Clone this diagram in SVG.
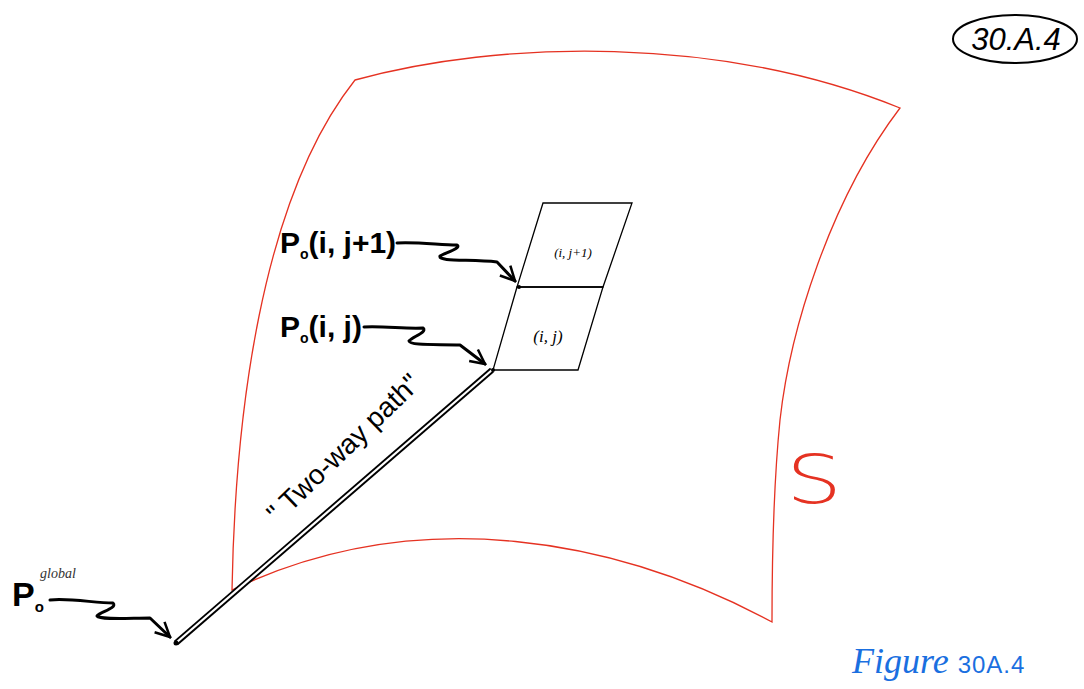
<svg xmlns="http://www.w3.org/2000/svg" width="1084" height="689" viewBox="0 0 1084 689">
<style>
.lbl{font-family:"Liberation Sans",Arial,sans-serif;font-weight:bold;fill:#000}
.cell{fill:none;stroke:#000;stroke-width:1.3}
.sq{fill:none;stroke:#000;stroke-width:3;stroke-linecap:round;stroke-linejoin:round}
.small{font-family:"Liberation Serif",serif;font-style:italic;fill:#000}
</style>
<defs>
<marker id="ah" viewBox="0 0 10 10" refX="9" refY="5" markerWidth="6" markerHeight="6" orient="auto" markerUnits="strokeWidth">
<path d="M1,1 L9,5 L1,9" fill="none" stroke="#000" stroke-width="1.4"/>
</marker>
</defs>
<rect width="1084" height="689" fill="#fff"/>
<g id="surface">
<path d="M355,80 C500,40 720,35 900,108 C830,200 790,330 780,420 C774,480 772,560 772,622 C620,540 420,500 232,590 C235,420 260,200 355,80 Z" fill="none" stroke="#e53222" stroke-width="1.3"/>
<text x="786" y="503" font-family="DejaVu Sans,sans-serif" font-weight="200" font-size="68" fill="#e53222" transform="translate(786,503) scale(1.3,1) translate(-786,-503)">S</text>
</g>
<g id="cell-ij1">
<path class="cell" d="M543,203 L632,203 L603,287 L517,287 Z"/>
<text class="small" x="573" y="257" font-size="13" text-anchor="middle">(i, j+1)</text>
</g>
<g id="cell-ij">
<path class="cell" d="M517,287 L603,287 L578,370 L493,370 Z"/>
<text class="small" x="548" y="342" font-size="17" text-anchor="middle">(i, j)</text>
</g>
<g id="path-two-way">
<line x1="176" y1="643" x2="492" y2="370" stroke="#000" stroke-width="6"/>
<line x1="177" y1="642" x2="492" y2="370" stroke="#fff" stroke-width="2.2"/>
<circle cx="176" cy="643" r="2.5" fill="#000"/>
<circle cx="493" cy="370" r="2" fill="#000"/>
<circle cx="519" cy="287" r="2" fill="#000"/>
<text x="0" y="0" font-family="Liberation Sans,sans-serif" font-size="28" transform="translate(350,455) rotate(-44)" text-anchor="middle">" Two-way path"</text>
</g>
<g id="label-ij1">
<text class="lbl" x="280" y="253" font-size="30">P<tspan font-size="14" dy="6">o</tspan><tspan dy="-6">(i, j+1)</tspan></text>
</g>
<g id="label-ij">
<text class="lbl" x="280" y="337" font-size="30">P<tspan font-size="14" dy="6">o</tspan><tspan dy="-6">(i, j)</tspan></text>
</g>
<g id="label-global">
<text class="lbl" x="12" y="606" font-size="34">P<tspan font-size="15" dy="6">o</tspan></text>
<text x="40" y="578" font-family="Liberation Serif,serif" font-style="italic" font-size="14" fill="#333">global</text>
</g>
<g id="connectors">
<path class="sq" marker-end="url(#ah)" d="M397,243 C420,242 440,245 457,245 C462,248 445,253 440,256 C438,262 470,259 497,262 L515,281"/>
<path class="sq" marker-end="url(#ah)" d="M364,327 C385,326 405,329 423,328 C428,332 412,337 409,341 C410,346 440,344 460,345 L485,364"/>
<path class="sq" marker-end="url(#ah)" d="M50,600 C70,598 95,603 113,603 C118,608 100,612 97,616 C100,620 130,618 150,618 L170,637"/>
</g>
<g id="badge">
<ellipse cx="1015" cy="39" rx="62" ry="24" fill="none" stroke="#000" stroke-width="2"/>
<text x="1016" y="50" font-family="Liberation Sans,sans-serif" font-style="italic" font-size="31" text-anchor="middle">30.A.4</text>
</g>
<g id="caption">
<text x="852" y="673" font-family="Liberation Serif,serif" font-style="italic" font-size="36" fill="#1a6fe0">Figure <tspan font-family="Liberation Sans,sans-serif" font-style="normal" font-size="24" letter-spacing="1">30A.4</tspan></text>
</g>
</svg>
